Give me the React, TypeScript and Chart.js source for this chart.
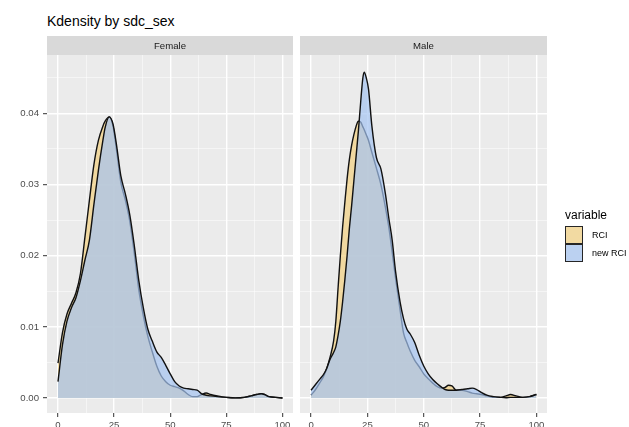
import React, { useEffect, useRef } from "react";
import { Chart, registerables } from "chart.js";

Chart.register(...registerables);

const FONT = "'Liberation Sans', Arial, Helvetica, sans-serif";

const chartTitle = "Kdensity by sdc_sex";
const panelLabels = ["Female", "Male"];
const seriesNames = ["RCI", "new RCI"];
const legendTitle = "variable";

const xMajorTicks = [0, 25, 50, 75, 100];
const xMinorTicks = [12.5, 37.5, 62.5, 87.5];
const yMajorTicks = [0, 0.01, 0.02, 0.03, 0.04];
const yMinorTicks = [0.005, 0.015, 0.025, 0.035, 0.045];

// Female panel
const femaleX = [0, 2, 4, 6, 8, 10, 12, 14, 16, 18, 20, 21, 22.8, 24.5, 26, 28, 30, 32, 34, 36, 38, 40, 42, 44, 46, 48, 50, 52, 54, 56, 58, 60, 62, 64, 66, 68, 71, 75, 79, 83, 86, 88.5, 90.5, 92, 94, 97, 100];
const femaleRci = [0.0049, 0.0092, 0.0118, 0.0133, 0.0148, 0.0175, 0.0226, 0.0278, 0.0328, 0.0362, 0.0382, 0.0389, 0.0395, 0.0382, 0.035, 0.0303, 0.0278, 0.0248, 0.0203, 0.0152, 0.0116, 0.0087, 0.0065, 0.0045, 0.0031, 0.0023, 0.0018, 0.0016, 0.0014, 0.001, 0.0005, 0.0002, 0.0002, 0.0005, 0.0007, 0.0005, 0.0003, 0.0001, 0.00003, 0.0001, 0.0003, 0.0005, 0.0006, 0.0005, 0.0002, 0.0001, 0.0];
const femaleNewRci = [0.0023, 0.0075, 0.0108, 0.0127, 0.0141, 0.0165, 0.0194, 0.0222, 0.0272, 0.032, 0.0362, 0.038, 0.0395, 0.0385, 0.0357, 0.0312, 0.0287, 0.0257, 0.0214, 0.0165, 0.0127, 0.0097, 0.008, 0.0065, 0.0057, 0.0046, 0.0034, 0.0023, 0.0017, 0.0014, 0.0013, 0.0012, 0.0011, 0.0006, 0.0004, 0.0003, 0.0002, 0.0001, 0.00003, 0.0001, 0.0003, 0.0005, 0.0006, 0.0005, 0.0002, 0.0001, 0.0];

// Male panel
const maleX = [0, 2, 4, 5.5, 7, 8.5, 10, 11, 12, 13, 14, 15, 16, 17, 18, 19, 20, 21, 22, 23, 23.6, 24.5, 25.5, 27, 29, 31, 33, 34.5, 36, 37.5, 39.5, 41, 42.5, 44, 46, 48, 50, 52, 54, 56, 58, 59.5, 61, 62.5, 64.5, 67, 69.5, 71.5, 73.5, 75.5, 78, 81, 84, 86.5, 88.5, 91, 94, 97, 100];
const maleRci = [0.0004, 0.0012, 0.0022, 0.003, 0.0042, 0.0058, 0.008, 0.0108, 0.0155, 0.02, 0.024, 0.0275, 0.0308, 0.0335, 0.0355, 0.037, 0.0382, 0.0389, 0.0388, 0.0381, 0.0377, 0.037, 0.0362, 0.0345, 0.0323, 0.03, 0.0268, 0.024, 0.0205, 0.0168, 0.0124, 0.0092, 0.0078, 0.0066, 0.0053, 0.0044, 0.0034, 0.0027, 0.0021, 0.0016, 0.0014, 0.0015, 0.0018, 0.0017, 0.0011, 0.0011, 0.0009, 0.0007, 0.0006, 0.0005, 0.0003, 0.0001, 0.0001, 0.0003, 0.0005, 0.0003, 0.0001, 0.0002, 0.0005];
const maleNewRci = [0.0011, 0.0019, 0.0027, 0.0033, 0.0042, 0.0055, 0.0064, 0.0072, 0.0088, 0.0108, 0.0135, 0.0166, 0.02, 0.0238, 0.027, 0.0305, 0.034, 0.0375, 0.0415, 0.045, 0.0458, 0.045, 0.0434, 0.0382, 0.0338, 0.0322, 0.0287, 0.0253, 0.0222, 0.0178, 0.0135, 0.0112, 0.0097, 0.009, 0.0078, 0.006, 0.0045, 0.0034, 0.0026, 0.002, 0.0015, 0.0012, 0.0011, 0.0011, 0.0011, 0.0012, 0.0013, 0.0014, 0.0012, 0.0008, 0.0004, 0.0002, 0.0001, 0.00005, 0.0001, 0.0001, 0.0001, 0.0002, 0.0005];

const FILL_RCI = "rgba(242, 208, 128, 0.7)";
const FILL_NEW = "rgba(164, 195, 241, 0.7)";
const LINE_COLOR = "#111111";

const xAll = [...xMajorTicks, ...xMinorTicks].sort((a, b) => a - b);
const yAll = [...yMajorTicks, ...yMinorTicks].sort((a, b) => a - b);
const isMajorX = (v: number) => xMajorTicks.some((m) => Math.abs(m - v) < 1e-9);
const isMajorY = (v: number) => yMajorTicks.some((m) => Math.abs(m - v) < 1e-9);

const stripPlugin = {
  id: "strip",
  beforeDraw(chart: any, _args: any, opts: any) {
    const { ctx, chartArea: a } = chart;
    ctx.save();
    ctx.fillStyle = "#EBEBEB";
    ctx.fillRect(a.left, a.top, a.right - a.left, a.bottom - a.top);
    ctx.fillStyle = "#D9D9D9";
    ctx.fillRect(a.left, a.top - 19, a.right - a.left, 19);
    ctx.fillStyle = "#1A1A1A";
    ctx.font = `9.6px ${FONT}`;
    ctx.textAlign = "center";
    ctx.textBaseline = "middle";
    ctx.fillText(opts.label, (a.left + a.right) / 2, a.top - 8.8);
    ctx.restore();
  },
};

function buildConfig(label: string, xs: number[], rci: number[], newRci: number[], showY: boolean): any {
  const pts = (ys: number[]) => xs.map((x, i) => ({ x, y: ys[i] }));
  const common = {
    borderColor: LINE_COLOR,
    borderWidth: 1.4,
    fill: "origin",
    pointRadius: 0,
    cubicInterpolationMode: "monotone",
  };
  return {
    type: "line",
    data: {
      datasets: [
        { ...common, label: seriesNames[0], data: pts(rci), backgroundColor: FILL_RCI, order: 1 },
        { ...common, label: seriesNames[1], data: pts(newRci), backgroundColor: FILL_NEW, order: 0 },
      ],
    },
    options: {
      responsive: false,
      animation: false,
      events: [],
      layout: {
        padding: showY
          ? { left: 0, right: 3, top: 55, bottom: 0 }
          : { left: 4, right: 82, top: 55, bottom: 0 },
      },
      plugins: {
        legend: { display: false },
        tooltip: { enabled: false },
        strip: { label },
      },
      scales: {
        x: {
          type: "linear",
          min: -4.9,
          max: 104.7,
          afterBuildTicks: (s: any) => {
            s.ticks = xAll.map((v) => ({ value: v }));
          },
          afterFit: (s: any) => {
            s.height = 14;
          },
          border: { display: false },
          grid: {
            color: (c: any) => (isMajorX(c.tick?.value) ? "#FFFFFF" : "rgba(255,255,255,0.75)"),
            lineWidth: (c: any) => (isMajorX(c.tick?.value) ? 1.4 : 0.7),
            drawTicks: true,
            tickLength: 4,
            tickColor: (c: any) => (isMajorX(c.tick?.value) ? "#333333" : "rgba(0,0,0,0)"),
            tickWidth: 1,
          },
          ticks: {
            autoSkip: false,
            maxRotation: 0,
            padding: 3,
            color: "#4D4D4D",
            font: { family: FONT, size: 9.6 },
            callback: (v: any) => (isMajorX(Number(v)) ? String(v) : ""),
          },
        },
        y: {
          type: "linear",
          min: -0.0021,
          max: 0.0482,
          afterBuildTicks: (s: any) => {
            s.ticks = yAll.map((v) => ({ value: v }));
          },
          afterFit: (s: any) => {
            s.width = showY ? 47 : 0;
          },
          border: { display: false },
          grid: {
            color: (c: any) => (isMajorY(c.tick?.value) ? "#FFFFFF" : "rgba(255,255,255,0.75)"),
            lineWidth: (c: any) => (isMajorY(c.tick?.value) ? 1.4 : 0.7),
            drawTicks: showY,
            tickLength: 4,
            tickColor: (c: any) => (isMajorY(c.tick?.value) ? "#333333" : "rgba(0,0,0,0)"),
            tickWidth: 1,
          },
          ticks: {
            display: showY,
            autoSkip: false,
            padding: 4,
            color: "#4D4D4D",
            font: { family: FONT, size: 9.6 },
            callback: (v: any) => (isMajorY(Number(v)) ? Number(v).toFixed(2) : ""),
          },
        },
      },
    },
    plugins: [stripPlugin],
  };
}

export default function App() {
  const femaleRef = useRef<HTMLCanvasElement>(null);
  const maleRef = useRef<HTMLCanvasElement>(null);

  useEffect(() => {
    const c1 = new Chart(femaleRef.current as HTMLCanvasElement, buildConfig(panelLabels[0], femaleX, femaleRci, femaleNewRci, true));
    const c2 = new Chart(maleRef.current as HTMLCanvasElement, buildConfig(panelLabels[1], maleX, maleRci, maleNewRci, false));
    return () => {
      c1.destroy();
      c2.destroy();
    };
  }, []);

  return (
    <div
      style={{
        position: "fixed",
        left: 0,
        top: 0,
        width: 629,
        height: 427,
        background: "#FFFFFF",
        overflow: "hidden",
        fontFamily: FONT,
      }}
    >
      <div style={{ position: "absolute", left: 47, top: 13.7, fontSize: 14, lineHeight: "14px", color: "#000", whiteSpace: "nowrap" }}>
        {chartTitle}
      </div>
      <canvas ref={femaleRef} width={296} height={427} style={{ position: "absolute", left: 0, top: 0, width: 296, height: 427 }} />
      <canvas ref={maleRef} width={333} height={427} style={{ position: "absolute", left: 296, top: 0, width: 333, height: 427 }} />
      <div style={{ position: "absolute", left: 565, top: 209, fontSize: 12, lineHeight: "12px", color: "#000", whiteSpace: "nowrap" }}>
        {legendTitle}
      </div>
      {[FILL_RCI, FILL_NEW].map((fill, i) => (
        <div
          key={i}
          style={{ position: "absolute", left: 565, top: 226 + i * 18, width: 18, height: 18, boxSizing: "border-box", background: "#F2F2F2" }}
        >
          <div style={{ position: "absolute", left: 0, top: 0, right: 0, bottom: 0, background: fill, border: "1px solid #262626", boxSizing: "border-box" }} />
        </div>
      ))}
      {seriesNames.map((n, i) => (
        <div key={n} style={{ position: "absolute", left: 592, top: 230 + i * 18, fontSize: 9, lineHeight: "10px", color: "#000", whiteSpace: "nowrap" }}>
          {n}
        </div>
      ))}
    </div>
  );
}
